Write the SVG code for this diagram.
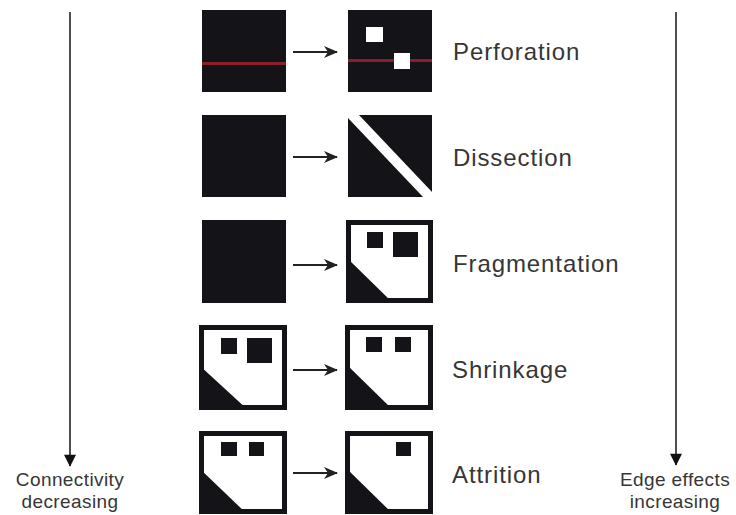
<svg xmlns="http://www.w3.org/2000/svg" width="736" height="515" viewBox="0 0 736 515">
<defs>
<style>
.blk{fill:#141418}
.frame{fill:#ffffff;stroke:#141418;stroke-width:5}
.wht{fill:#ffffff}
.red{fill:#8a1f2c}
.lbl{font-family:"Liberation Sans",Arial,sans-serif;font-size:24px;letter-spacing:0.9px;fill:#363636}
.ax{font-family:"Liberation Sans",Arial,sans-serif;font-size:19px;letter-spacing:0.4px;fill:#363636;text-anchor:middle}
.conn{stroke:#222222;stroke-width:2;fill:none}
.axis{stroke:#222222;stroke-width:1.6;fill:none}
</style>
<marker id="ah" viewBox="0 0 14 12" refX="13" refY="6" markerWidth="14" markerHeight="12" markerUnits="userSpaceOnUse" orient="auto">
<path d="M0,0 L14,6 L0,12 L4,6 Z" fill="#222222"/>
</marker>
<marker id="ahv" viewBox="0 0 16 16" refX="15" refY="8" markerWidth="16" markerHeight="12" markerUnits="userSpaceOnUse" orient="auto">
<path d="M0,0 L16,8 L0,16 Z" fill="#111111"/>
</marker>
</defs>
<rect width="736" height="515" fill="#ffffff"/>

<g id="connectors">
<line class="axis" x1="70" y1="12" x2="70" y2="466" marker-end="url(#ahv)"/>
<line class="axis" x1="676" y1="12" x2="676" y2="465" marker-end="url(#ahv)"/>
<line class="conn" x1="293" y1="52" x2="337" y2="52" marker-end="url(#ah)"/>
<line class="conn" x1="293" y1="157" x2="337" y2="157" marker-end="url(#ah)"/>
<line class="conn" x1="293" y1="265" x2="337" y2="265" marker-end="url(#ah)"/>
<line class="conn" x1="293" y1="370" x2="337" y2="370" marker-end="url(#ah)"/>
<line class="conn" x1="293" y1="473" x2="337" y2="473" marker-end="url(#ah)"/>
</g>

<g id="perforation-before">
<rect class="blk" x="202" y="10" width="84" height="82"/>
<rect class="red" x="202" y="62" width="84" height="3"/>
</g>
<g id="perforation-after">
<rect class="blk" x="348" y="10" width="84" height="82"/>
<rect class="red" x="348" y="59" width="84" height="3"/>
<rect class="wht" x="366" y="27" width="17" height="15"/>
<rect class="wht" x="394" y="53" width="16" height="16"/>
</g>
<g id="label-perforation"><text class="lbl" x="453" y="60">Perforation</text></g>

<g id="dissection-before">
<rect class="blk" x="202" y="115" width="84" height="82"/>
</g>
<g id="dissection-after">
<rect class="blk" x="348" y="115" width="84" height="82"/>
<polygon class="wht" points="348,115 359,115 432,192 432,197 423,197 348,118"/>
</g>
<g id="label-dissection"><text class="lbl" x="453" y="166">Dissection</text></g>

<g id="fragmentation-before">
<rect class="blk" x="202" y="220" width="84" height="83"/>
</g>
<g id="fragmentation-after">
<rect class="frame" x="348.5" y="222.5" width="82" height="78"/>
<polygon class="blk" points="346,257 393,303 346,303"/>
<rect class="blk" x="367" y="232" width="16" height="16"/>
<rect class="blk" x="393" y="232" width="25" height="25"/>
</g>
<g id="label-fragmentation"><text class="lbl" x="453" y="272">Fragmentation</text></g>

<g id="shrinkage-before">
<rect class="frame" x="201.5" y="327.5" width="83" height="80"/>
<polygon class="blk" points="199,365 248,410 199,410"/>
<rect class="blk" x="221" y="338" width="16" height="16"/>
<rect class="blk" x="247" y="338" width="25" height="25"/>
</g>
<g id="shrinkage-after">
<rect class="frame" x="347.5" y="327.5" width="83" height="80"/>
<polygon class="blk" points="345,363 393,410 345,410"/>
<rect class="blk" x="366" y="337" width="16" height="15"/>
<rect class="blk" x="395" y="337" width="16" height="15"/>
</g>
<g id="label-shrinkage"><text class="lbl" x="452" y="378">Shrinkage</text></g>

<g id="attrition-before">
<rect class="frame" x="201.5" y="433.5" width="83" height="78"/>
<polygon class="blk" points="199,468 247,514 199,514"/>
<rect class="blk" x="221" y="442" width="16" height="14"/>
<rect class="blk" x="249" y="442" width="15" height="14"/>
</g>
<g id="attrition-after">
<rect class="frame" x="347.5" y="433.5" width="83" height="78"/>
<polygon class="blk" points="345,467 393,514 345,514"/>
<rect class="blk" x="396" y="442" width="15" height="14"/>
</g>
<g id="label-attrition"><text class="lbl" x="452" y="483">Attrition</text></g>

<g id="label-connectivity">
<text class="ax" x="70" y="486">Connectivity</text>
<text class="ax" x="70" y="508">decreasing</text>
</g>
<g id="label-edge">
<text class="ax" x="675" y="486">Edge effects</text>
<text class="ax" x="675" y="508">increasing</text>
</g>
</svg>
